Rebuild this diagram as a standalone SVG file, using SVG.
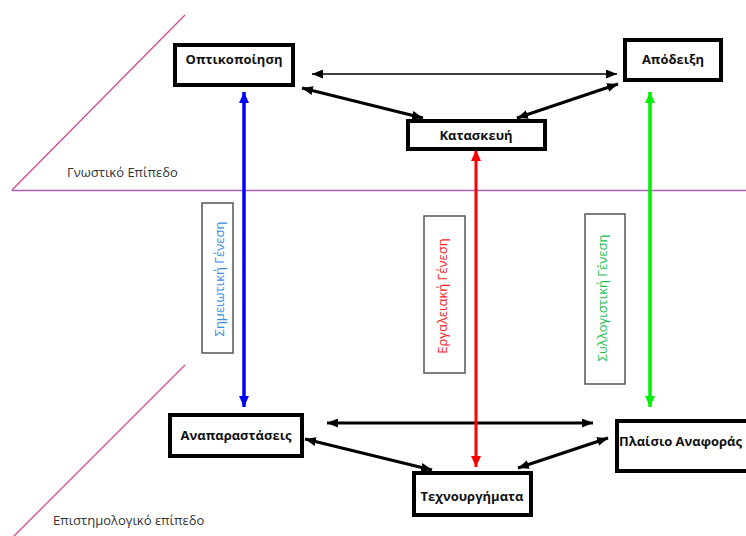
<svg xmlns="http://www.w3.org/2000/svg" width="746" height="536" viewBox="0 0 746 536">
<style>
.node rect{fill:#fff;stroke:#000;stroke-width:4}
.node text{font-family:"Open Sans","Liberation Sans",sans-serif;font-weight:bold;font-size:13px;fill:#111;text-anchor:middle}
.lbl rect{fill:#fff;stroke:#555;stroke-width:1.5}
.lbl text{font-family:"Open Sans","Liberation Sans",sans-serif;font-size:13px;text-anchor:middle;dominant-baseline:central}
.lvl{font-family:"Open Sans","Liberation Sans",sans-serif;font-size:13px;fill:#333}
.plane{fill:none;stroke-width:1.3}
</style>
<defs>
<marker id="ak" markerUnits="userSpaceOnUse" markerWidth="11" markerHeight="9" refX="11" refY="4.5" orient="auto-start-reverse"><path d="M0,0 L11,4.5 L0,9 z" fill="#000"/></marker>
<marker id="ab" markerUnits="userSpaceOnUse" markerWidth="11" markerHeight="10" refX="11" refY="5" orient="auto-start-reverse"><path d="M0,0 L11,5 L0,10 z" fill="#0000ff"/></marker>
<marker id="ar" markerUnits="userSpaceOnUse" markerWidth="11" markerHeight="10" refX="11" refY="5" orient="auto-start-reverse"><path d="M0,0 L11,5 L0,10 z" fill="#ff0000"/></marker>
<marker id="ag" markerUnits="userSpaceOnUse" markerWidth="11" markerHeight="10" refX="11" refY="5" orient="auto-start-reverse"><path d="M0,0 L11,5 L0,10 z" fill="#00ee00"/></marker>
</defs>
<g id="planes">
<line class="plane" x1="185" y1="15" x2="12" y2="190" stroke="#d04a9a"/>
<line class="plane" x1="12" y1="190.5" x2="746" y2="190.5" stroke="#a860b0"/>
<line class="plane" x1="185" y1="365" x2="12" y2="538" stroke="#d04a9a"/>
<text class="lvl" x="67" y="177">Γνωστικό Επίπεδο</text>
<text class="lvl" x="53" y="525">Επιστημολογικό επίπεδο</text>
</g>
<g id="connectors">
<line x1="312" y1="74" x2="617" y2="74" stroke="#000" stroke-width="1.6" marker-start="url(#ak)" marker-end="url(#ak)"/>
<line x1="302" y1="88" x2="423" y2="118" stroke="#000" stroke-width="3" marker-start="url(#ak)" marker-end="url(#ak)"/>
<line x1="517" y1="118" x2="618" y2="84" stroke="#000" stroke-width="3" marker-start="url(#ak)" marker-end="url(#ak)"/>
<line x1="327" y1="423" x2="593" y2="423" stroke="#000" stroke-width="3" marker-start="url(#ak)" marker-end="url(#ak)"/>
<line x1="305" y1="439" x2="432" y2="470" stroke="#000" stroke-width="3" marker-start="url(#ak)" marker-end="url(#ak)"/>
<line x1="518" y1="468" x2="608" y2="438" stroke="#000" stroke-width="3" marker-start="url(#ak)" marker-end="url(#ak)"/>
<line x1="244" y1="92" x2="244" y2="407" stroke="#0000ff" stroke-width="3.5" marker-start="url(#ab)" marker-end="url(#ab)"/>
<line x1="476" y1="150" x2="476" y2="467" stroke="#ff0000" stroke-width="3" marker-start="url(#ar)" marker-end="url(#ar)"/>
<line x1="650" y1="92" x2="650" y2="407" stroke="#00ee00" stroke-width="3.5" marker-start="url(#ag)" marker-end="url(#ag)"/>
</g>
<g id="lbl-semiotic" class="lbl">
<rect x="202" y="203" width="31" height="150"/>
<text transform="translate(219,279) rotate(-90)" fill="#3a8ee0">Σημειωτική Γένεση</text>
</g>
<g id="lbl-instrumental" class="lbl">
<rect x="424" y="216" width="41" height="157"/>
<text transform="translate(442,296) rotate(-90)" fill="#ff2020">Εργαλειακή Γένεση</text>
</g>
<g id="lbl-discursive" class="lbl">
<rect x="585" y="214" width="40" height="170"/>
<text transform="translate(602,298) rotate(-90)" fill="#20c050">Συλλογιστική Γένεση</text>
</g>
<g id="n-visualization" class="node">
<rect x="175" y="45" width="118" height="40"/>
<text x="234" y="64">Οπτικοποίηση</text>
</g>
<g id="n-proof" class="node">
<rect x="625" y="40" width="96" height="40"/>
<text x="673" y="64">Απόδειξη</text>
</g>
<g id="n-construction" class="node">
<rect x="408" y="121" width="137" height="28"/>
<text x="476" y="140">Κατασκευή</text>
</g>
<g id="n-representations" class="node">
<rect x="170" y="415" width="132" height="41"/>
<text x="236" y="440">Αναπαραστάσεις</text>
</g>
<g id="n-artifacts" class="node">
<rect x="414" y="473" width="117" height="42"/>
<text x="472" y="501">Τεχνουργήματα</text>
</g>
<g id="n-reference" class="node">
<rect x="617" y="421" width="140" height="50"/>
<text x="619" y="446" style="text-anchor:start">Πλαίσιο Αναφοράς</text>
</g>
</svg>
